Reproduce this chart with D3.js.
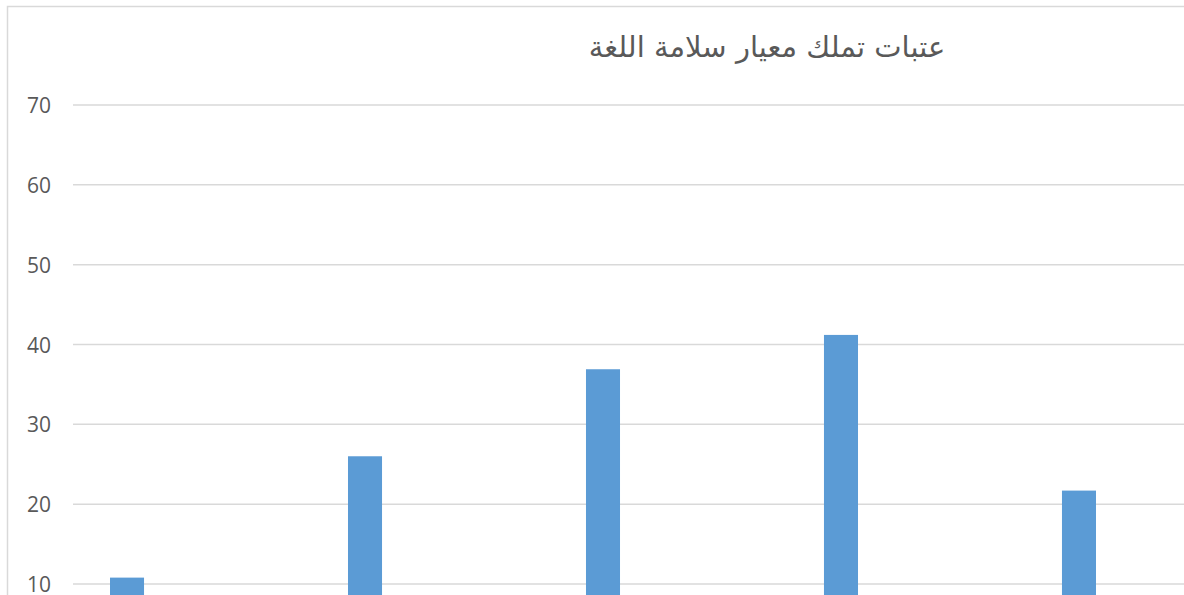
<!DOCTYPE html>
<html>
<head>
<meta charset="utf-8">
<script src="https://cdn.jsdelivr.net/npm/d3@7"></script>
<style>
  html, body { margin: 0; padding: 0; background: #fff; overflow: hidden; }
</style>
</head>
<body>
<svg id="chart"></svg>
<script>
const categories = ["1", "2", "3", "4", "5"];
const values = [10.8, 26.0, 36.9, 41.2, 21.7];
const yTicks = [10, 20, 30, 40, 50, 60, 70];
const title = "عتبات تملك معيار سلامة اللغة";

const width = 1184;
const height = 595;

const svg = d3.select("#chart")
    .attr("width", width)
    .attr("height", height);

// chart frame (extends past the visible area on the right and bottom)
svg.append("rect")
    .attr("x", 7.5)
    .attr("y", 6.5)
    .attr("width", 1600)
    .attr("height", 800)
    .attr("fill", "#fff")
    .attr("stroke", "#d9d9d9")
    .attr("stroke-width", 1.5);

const y = d3.scaleLinear()
    .domain([10, 70])
    .range([584, 105]);

const x = d3.scaleBand()
    .domain(categories)
    .range([8, 1198])
    .paddingInner(0.857)
    .paddingOuter(0.4286);

// Gridlines
svg.append("g")
    .selectAll("line")
    .data(yTicks)
    .enter()
    .append("line")
    .attr("x1", 73)
    .attr("x2", 1600)
    .attr("y1", d => y(d))
    .attr("y2", d => y(d))
    .attr("stroke", "#d9d9d9")
    .attr("stroke-width", 1.5);

// Y labels
const yAxis = svg.append("g")
    .attr("transform", "translate(51,0)")
    .call(d3.axisLeft(y).tickValues(yTicks).tickSize(0).tickPadding(0));
yAxis.select(".domain").remove();
yAxis.selectAll("text")
    .attr("dy", "0.36em")
    .style("fill", "#595959")
    .style("font-family", "'Open Sans', sans-serif")
    .style("font-size", "21px");

// Bars
svg.append("g")
    .selectAll("rect")
    .data(values)
    .enter()
    .append("rect")
    .attr("x", (d, i) => x(categories[i]))
    .attr("y", d => y(d))
    .attr("width", x.bandwidth())
    .attr("height", d => y(0) - y(d))
    .attr("fill", "#5b9bd5");

// Title
svg.append("text")
    .attr("x", 767)
    .attr("y", 57)
    .attr("text-anchor", "middle")
    .attr("direction", "rtl")
    .attr("fill", "#595959")
    .attr("font-family", "'DejaVu Sans', sans-serif")
    .attr("font-size", 29)
    .text(title);
</script>
</body>
</html>
